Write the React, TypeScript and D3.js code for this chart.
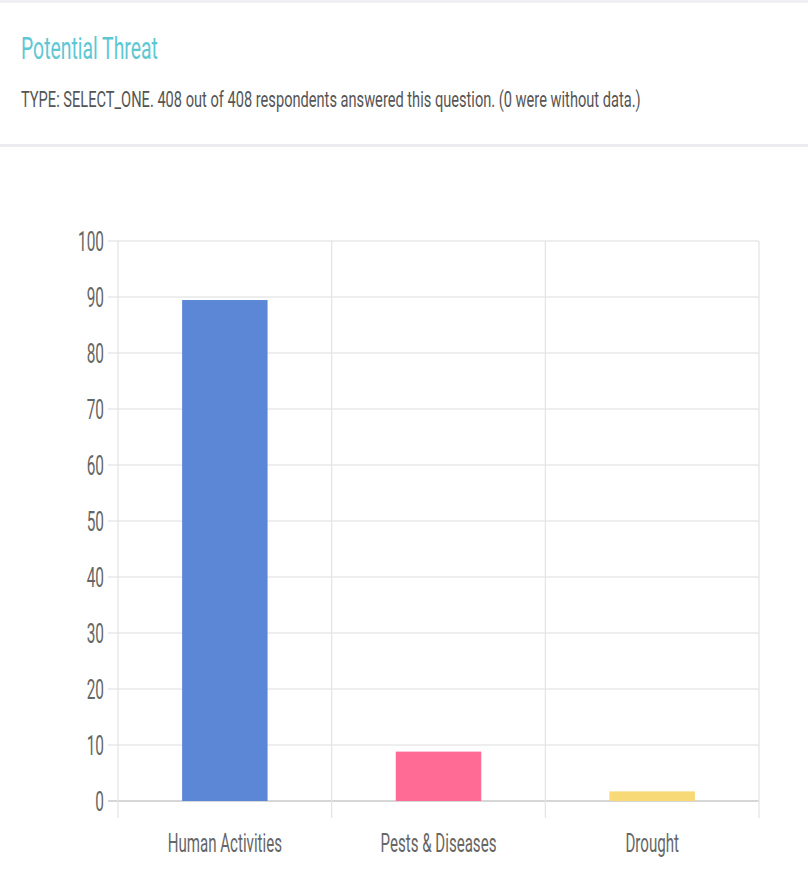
import * as React from "react"
import * as d3 from "d3"

const categories = ["Human Activities", "Pests & Diseases", "Drought"]
const percentages = [89.46, 8.82, 1.72]
const barColors = ["#5b87d6", "#ff6b94", "#f8d978"]
const yTicks = [0, 10, 20, 30, 40, 50, 60, 70, 80, 90, 100]

const title = "Potential Threat"
const subtitle =
  "TYPE: SELECT_ONE. 408 out of 408 respondents answered this question. (0 were without data.)"

const WIDTH = 808
const HEIGHT = 878

// the picture is squeezed horizontally, so text gets a narrow x scale
function Label({
  x,
  y,
  size,
  sx,
  fill,
  anchor = "start",
  children,
}: {
  x: number
  y: number
  size: number
  sx: number
  fill: string
  anchor?: string
  children: React.ReactNode
}) {
  return (
    <text
      transform={`translate(${x},${y}) scale(${sx},1)`}
      fontSize={size}
      fill={fill}
      textAnchor={anchor}
      fontFamily="Roboto, 'Noto Sans', sans-serif"
    >
      {children}
    </text>
  )
}

export default function App(): React.JSX.Element {
  const margin = { top: 241, right: 49, bottom: 77, left: 118 }
  const plotW = WIDTH - margin.left - margin.right
  const plotH = HEIGHT - margin.top - margin.bottom

  const x = d3
    .scaleBand()
    .domain(categories)
    .range([margin.left, margin.left + plotW])
  const y = d3
    .scaleLinear()
    .domain([0, 100])
    .range([margin.top + plotH, margin.top])

  const barW = x.bandwidth() * 0.4
  const boundaries = [...categories.map((c) => x(c) as number), margin.left + plotW]

  return (
    <svg
      width={WIDTH}
      height={HEIGHT}
      style={{ position: "absolute", left: 0, top: 0, background: "#fff" }}
    >
      <rect x={0} y={0} width={WIDTH} height={3} fill="#f0f0f4" />
      <rect x={0} y={144} width={WIDTH} height={3} fill="#ececf0" />

      <Label x={21} y={59} size={31} sx={0.625} fill="#5ec7d4">
        {title}
      </Label>
      <Label x={21} y={107} size={22.5} sx={0.65} fill="#555">
        {subtitle}
      </Label>

      {/* horizontal grid */}
      {yTicks.map((t) => (
        <g key={t}>
          <line
            x1={margin.left - 10}
            x2={margin.left + plotW}
            y1={y(t)}
            y2={y(t)}
            stroke={t === 0 ? "#d6d6d6" : "#e8e8e8"}
            strokeWidth={t === 0 ? 2 : 1.5}
          />
          <Label x={margin.left - 14} y={y(t) + 9.6} size={27} sx={0.57} fill="#666" anchor="end">
            {t}
          </Label>
        </g>
      ))}

      {/* vertical grid at category boundaries */}
      {boundaries.map((bx, i) => (
        <line
          key={i}
          x1={bx}
          x2={bx}
          y1={margin.top}
          y2={margin.top + plotH + 17}
          stroke="#e3e3e3"
          strokeWidth={1.2}
        />
      ))}

      {categories.map((c, i) => {
        const cx = (x(c) as number) + x.bandwidth() / 2
        return (
          <g key={c}>
            <rect
              x={cx - barW / 2}
              y={y(percentages[i])}
              width={barW}
              height={y(0) - y(percentages[i])}
              fill={barColors[i]}
            />
            <Label x={cx} y={852} size={26} sx={0.58} fill="#666" anchor="middle">
              {c}
            </Label>
          </g>
        )
      })}
    </svg>
  )
}
